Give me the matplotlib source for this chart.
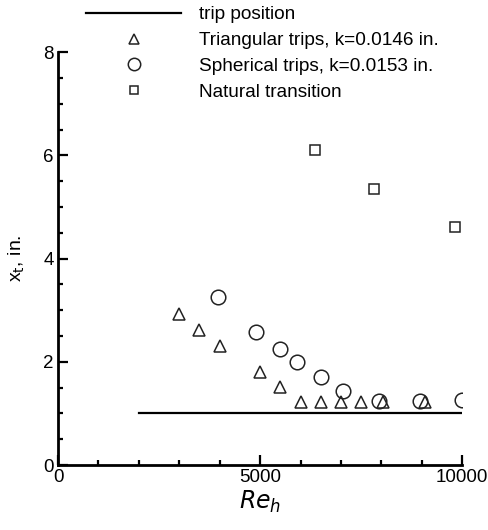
import numpy as np
import matplotlib.pyplot as plt
from matplotlib.ticker import MultipleLocator

plt.rcParams['font.family'] = ['Liberation Sans', 'DejaVu Sans']

# Trip-Position
trip_re = [2000, 10000]
trip_x = [1.0, 1.0]

# Dreieckige Trips
tri_re = [3000, 3500, 4000, 5000, 5500, 6000, 6500, 7000, 7500, 8050, 9080]
tri_x = [2.92, 2.61, 2.30, 1.81, 1.51, 1.23, 1.23, 1.23, 1.23, 1.23, 1.23]

# Kugelfoermige Trips
sph_re = [3950, 4900, 5500, 5920, 6500, 7050, 7950, 8960, 10000]
sph_x = [3.25, 2.58, 2.24, 2.0, 1.70, 1.44, 1.24, 1.24, 1.26]

# Natuerlicher Umschlag
nat_re = [6350, 7820, 9820]
nat_x = [6.10, 5.35, 4.61]

fig = plt.figure(figsize=(4.88, 5.30), dpi=100)
ax = fig.add_axes([0.119, 0.1226, 0.828, 0.779])

ax.plot(trip_re, trip_x, '-', color='black', lw=1.6, label='trip position')
ax.plot(tri_re, tri_x, '^', mfc='none', mec='#222222', ms=9, mew=1.1, ls='none',
        label='Triangular trips, k=0.0146 in.')
ax.plot(sph_re, sph_x, 'o', mfc='none', mec='#222222', ms=10.5, mew=1.1, ls='none',
        label='Spherical trips, k=0.0153 in.')
ax.plot(nat_re, nat_x, 's', mfc='none', mec='#222222', ms=7, mew=1.1, ls='none',
        label='Natural transition')

ax.set_xlim(0, 10000)
ax.set_ylim(0, 8)
ax.xaxis.set_major_locator(MultipleLocator(5000))
ax.xaxis.set_minor_locator(MultipleLocator(1000))
ax.yaxis.set_major_locator(MultipleLocator(2))
ax.yaxis.set_minor_locator(MultipleLocator(0.5))
ax.tick_params(which='both', direction='in', width=1.6, labelsize=13.5, pad=3)
ax.tick_params(which='major', length=7)
ax.tick_params(which='minor', length=3.8)
ax.spines['top'].set_visible(False)
ax.spines['right'].set_visible(False)
for s in ['left', 'bottom']:
    ax.spines[s].set_linewidth(2)

ax.set_xlabel('$Re_h$', fontsize=17, labelpad=2)
ax.set_ylabel('x$_\\mathrm{t}$, in.', fontsize=14, labelpad=12)

fig.legend(loc='upper left', bbox_to_anchor=(86 / 488, 1 - 6 / 530), frameon=False,
           fontsize=13.7, handlelength=5.0, handletextpad=0.95, labelspacing=0.45,
           borderpad=0, borderaxespad=0, markerscale=0.85)

plt.savefig('out.png', dpi=100)
